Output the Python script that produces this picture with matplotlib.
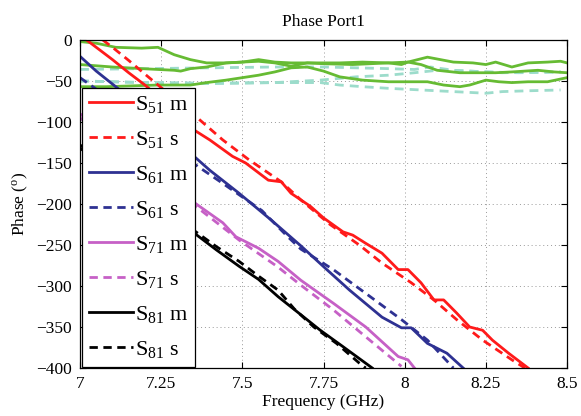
import matplotlib
matplotlib.use("Agg")
import matplotlib.pyplot as plt

plt.rcParams['font.family'] = ['Liberation Serif', 'DejaVu Serif']
plt.rcParams['mathtext.fontset'] = 'custom'
plt.rcParams['mathtext.rm'] = 'Liberation Serif'
plt.rcParams['mathtext.it'] = 'Liberation Serif:italic'

# ---- data (GHz, degrees) ----
s51m_x = [7.02, 7.06, 7.10, 7.15, 7.20, 7.25, 7.30, 7.34, 7.40, 7.47, 7.51, 7.58, 7.62, 7.65, 7.71, 7.75,
          7.81, 7.84, 7.88, 7.93, 7.98, 8.01, 8.05, 8.09, 8.12, 8.16, 8.20, 8.24, 8.27, 8.32, 8.38]
s51m_y = [0, -12, -24, -40, -55, -72, -90, -107, -122, -142, -150, -171, -173, -187, -203, -217,
          -234, -238, -248, -260, -280, -280, -296, -317, -317, -333, -350, -354, -366, -382, -400]

s51s_x = [7.07, 7.10, 7.15, 7.21, 7.28, 7.35, 7.44, 7.52, 7.62, 7.68, 7.77, 7.86, 7.93, 8.02,
          8.09, 8.16, 8.24, 8.33, 8.37]
s51s_y = [0, -9, -25, -45, -68, -91, -122, -146, -173, -195, -225, -250, -272, -296,
          -317, -341, -366, -390, -400]

s61m_x = [7.00, 7.05, 7.11, 7.20, 7.27, 7.34, 7.40, 7.49, 7.59, 7.68, 7.76, 7.83, 7.93, 7.99,
          8.02, 8.07, 8.13, 8.18]
s61m_y = [-20, -38, -57, -85, -110, -138, -159, -187, -220, -251, -280, -305, -338, -351,
          -351, -370, -382, -400]

s61s_x = [7.00, 7.05, 7.15, 7.25, 7.34, 7.44, 7.56, 7.64, 7.68, 7.78, 7.88, 7.99, 8.07, 8.15]
s61s_y = [-46, -60, -90, -120, -148, -175, -208, -240, -255, -280, -309, -341, -366, -400]

s71m_x = [7.00, 7.10, 7.20, 7.30, 7.34, 7.44, 7.48, 7.55, 7.61, 7.68, 7.78, 7.88, 7.98, 8.01, 8.03]
s71m_y = [-90, -120, -150, -182, -195, -223, -240, -254, -270, -293, -321, -350, -386, -390, -400]

s71s_x = [7.00, 7.10, 7.20, 7.30, 7.37, 7.49, 7.61, 7.68, 7.78, 7.88, 7.99]
s71s_y = [-95, -125, -157, -188, -207, -244, -277, -299, -329, -362, -398]

s81m_x = [7.00, 7.10, 7.20, 7.30, 7.35, 7.42, 7.49, 7.55, 7.61, 7.68, 7.74, 7.81, 7.90]
s81m_y = [-132, -160, -190, -220, -235, -256, -276, -292, -313, -335, -354, -374, -400]

s81s_x = [7.00, 7.10, 7.20, 7.30, 7.35, 7.42, 7.49, 7.55, 7.61, 7.66, 7.72, 7.79, 7.86, 7.88]
s81s_y = [-128, -158, -188, -218, -232, -252, -270, -288, -305, -328, -350, -370, -394, -400]

g1_x = [7.00, 7.05, 7.11, 7.19, 7.24, 7.29, 7.34, 7.39, 7.45, 7.50, 7.55, 7.60, 7.65, 7.75, 7.80,
        7.87, 7.95, 7.99, 8.01, 8.07, 8.11, 8.15, 8.21, 8.25, 8.28, 8.33, 8.38, 8.44, 8.48, 8.50]
g1_y = [-2, -4, -9, -10, -9, -18, -24, -28, -28, -27, -24, -27, -28, -28, -28,
        -27, -28, -30, -27, -21, -24, -27, -28, -30, -27, -33, -28, -27, -26, -28]

g2_x = [7.00, 7.10, 7.19, 7.29, 7.31, 7.34, 7.39, 7.45, 7.50, 7.55, 7.60, 7.65, 7.70, 7.75, 7.84,
        7.95, 8.01, 8.05, 8.10, 8.17, 8.23, 8.28, 8.33, 8.41, 8.46, 8.50]
g2_y = [-30, -33, -35, -37, -38, -35, -33, -28, -27, -26, -28, -32, -28, -29, -30,
        -28, -27, -30, -37, -40, -40, -40, -39, -37, -39, -40]

g3_x = [7.00, 7.08, 7.16, 7.24, 7.34, 7.39, 7.45, 7.50, 7.55, 7.60, 7.65, 7.70, 7.75, 7.80, 7.87,
        7.95, 8.01, 8.07, 8.12, 8.17, 8.20, 8.25, 8.29, 8.33, 8.38, 8.44, 8.50]
g3_y = [-57, -57, -56, -55, -55, -52, -49, -46, -43, -39, -34, -33, -38, -45, -49,
        -51, -51, -51, -55, -57, -55, -49, -51, -52, -51, -51, -46]

t1_x = [7.00, 7.20, 7.40, 7.60, 7.75, 7.85, 7.95, 8.03, 8.08, 8.15, 8.25, 8.35, 8.48]
t1_y = [-36, -35, -34, -33, -33, -34, -35, -36, -33, -37, -39, -40, -39]

t2_x = [7.00, 7.20, 7.40, 7.60, 7.74, 7.85, 7.95, 8.03, 8.10, 8.20, 8.30, 8.48]
t2_y = [-50, -52, -53, -52, -49, -45, -43, -40, -37, -38, -40, -39]

t3_x = [7.00, 7.20, 7.40, 7.60, 7.74, 7.80, 7.87, 7.95, 8.05, 8.15, 8.25, 8.30, 8.38, 8.48]
t3_y = [-50, -52, -53, -52, -52, -55, -57, -59, -61, -63, -65, -63, -62, -61]

labels = [r'$\mathrm{S}_{51}$ m', r'$\mathrm{S}_{51}$ s', r'$\mathrm{S}_{61}$ m', r'$\mathrm{S}_{61}$ s',
          r'$\mathrm{S}_{71}$ m', r'$\mathrm{S}_{71}$ s', r'$\mathrm{S}_{81}$ m', r'$\mathrm{S}_{81}$ s']
xticks = [7, 7.25, 7.5, 7.75, 8, 8.25, 8.5]
xticklabels = ['7', '7.25', '7.5', '7.75', '8', '8.25', '8.5']
yticks = [0, -50, -100, -150, -200, -250, -300, -350, -400]

RED = '#ff1a1a'
BLUE = '#2e3192'
MAG = '#c660c6'
BLK = '#000000'
GRN = '#66bb33'
TEAL = '#9cdccb'
LW = 2.0

fig = plt.figure(figsize=(5.81, 4.16), dpi=100)
ax = fig.add_axes([0.1377, 0.1154, 0.8383, 0.7886])

for tx, ty in [(t1_x, t1_y), (t2_x, t2_y), (t3_x, t3_y)]:
    ax.plot(tx, ty, color=TEAL, lw=LW, ls=(0, (3.2, 2.2)))
for gx, gy in [(g1_x, g1_y), (g2_x, g2_y), (g3_x, g3_y)]:
    ax.plot(gx, gy, color=GRN, lw=LW)

series = [(s51m_x, s51m_y, RED, '-'), (s51s_x, s51s_y, RED, '--'),
          (s61m_x, s61m_y, BLUE, '-'), (s61s_x, s61s_y, BLUE, '--'),
          (s71m_x, s71m_y, MAG, '-'), (s71s_x, s71s_y, MAG, '--'),
          (s81m_x, s81m_y, BLK, '-'), (s81s_x, s81s_y, BLK, '--')]
handles = []
for (sx, sy, c, ls), lab in zip(series, labels):
    if ls == '--':
        h, = ax.plot(sx, sy, color=c, lw=LW, ls=(0, (3.0, 2.0)), label=lab)
    else:
        h, = ax.plot(sx, sy, color=c, lw=LW, ls='-', label=lab)
    handles.append(h)

ax.set_xlim(7, 8.5)
ax.set_ylim(-400, 0)
ax.set_xticks(xticks)
ax.set_xticklabels(xticklabels)
ax.set_yticks(yticks)
ax.tick_params(direction='in', top=True, right=True, labelsize=12.5, length=4, pad=6)
ax.grid(True, ls=(0, (1, 3)), color='#999999', lw=0.7)
for sp in ax.spines.values():
    sp.set_linewidth(0.9)

ax.set_title('Phase Port1', fontsize=12.5, pad=10)
ax.set_xlabel('Frequency (GHz)', fontsize=12.5, labelpad=1)
ax.set_ylabel(r'Phase ($^{\mathrm{o}}$)', fontsize=12.5, labelpad=4)

leg = ax.legend(handles=handles, loc='upper left', bbox_to_anchor=(0.004, 0.855),
                fontsize=16, frameon=True, fancybox=False, framealpha=1,
                edgecolor='black', handlelength=2.0, handletextpad=0.1,
                labelspacing=0.63, borderpad=0.3, borderaxespad=0)
leg.get_frame().set_linewidth(0.9)

fig.savefig('out.png', dpi=100)
